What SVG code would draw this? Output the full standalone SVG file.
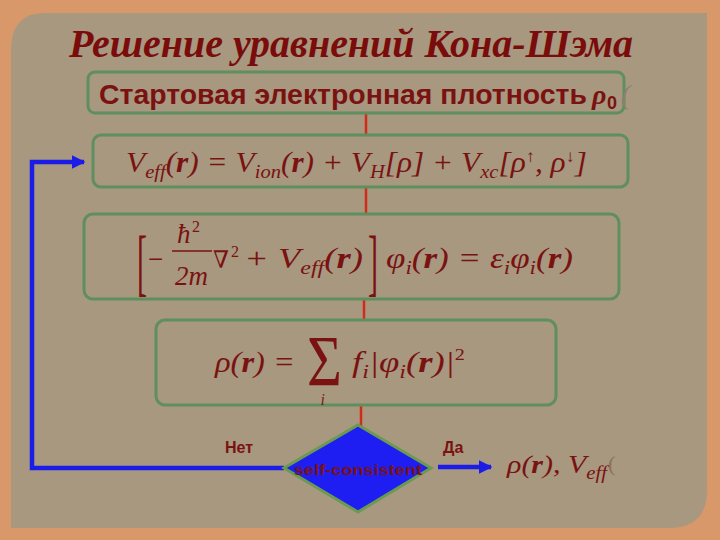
<svg xmlns="http://www.w3.org/2000/svg" width="720" height="540" viewBox="0 0 720 540">
<defs>
<style>
.box{fill:none;stroke:#5f8f5f;stroke-width:3}
.m{font-family:"Liberation Serif","DejaVu Serif",serif;font-style:italic;fill:#7a1212}
.b{font-weight:bold}
.s{font-family:"Liberation Sans",Arial,sans-serif;font-weight:bold;fill:#7a1212}
.red{stroke:#d42a1a;stroke-width:2.5}
.blue{stroke:#1c1ce8;stroke-width:4.5;fill:none}
</style>
<marker id="ah" viewBox="0 0 10 10" refX="9" refY="5" markerWidth="3" markerHeight="3" orient="auto" markerUnits="strokeWidth">
<path d="M0,0 L10,5 L0,10 Z" fill="#1c1ce8"/>
</marker>
</defs>
<rect x="0" y="0" width="720" height="540" fill="#d9986a"/>
<path d="M45 13 H707 V490 Q707 528 669 528 H11 V50 Q11 13 45 13 Z" fill="#a7987f"/>
<text x="69" y="57" font-family="Liberation Serif, serif" font-style="italic" font-weight="bold" font-size="41" fill="#7a0c0c" textLength="564" lengthAdjust="spacingAndGlyphs">Решение уравнений Кона-Шэма</text>

<g id="connectors">
<line class="red" x1="366" y1="113" x2="366" y2="135"/>
<line class="red" x1="366" y1="187" x2="366" y2="213"/>
<line class="red" x1="364" y1="299" x2="364" y2="320"/>
<line class="red" x1="361" y1="405" x2="361" y2="428"/>
<polyline class="blue" points="284,468 32,468 32,162 84,162" marker-end="url(#ah)"/>
<line class="blue" x1="438" y1="467" x2="491" y2="467" marker-end="url(#ah)"/>
<text class="s" x="225" y="453" font-size="16">Нет</text>
<text class="s" x="443" y="453" font-size="16">Да</text>
</g>

<g id="start">
<rect class="box" x="88" y="72" width="536" height="41" rx="7"/>
<text class="s" x="99" y="104" font-size="27" textLength="488" lengthAdjust="spacingAndGlyphs">Стартовая электронная плотность</text>
<text class="m b" x="592" y="104" font-size="28">ρ</text>
<text class="s" x="607" y="109" font-size="18">0</text>
<text class="m" x="621" y="104" font-size="28" style="fill:#8a8070">(</text>
</g>

<g id="veff">
<rect class="box" x="93" y="135" width="535" height="52" rx="8"/>
<text class="m" x="126" y="172" font-size="29" textLength="461" lengthAdjust="spacingAndGlyphs">V<tspan dy="6" font-size="19">eff</tspan><tspan dy="-6">(</tspan><tspan class="b">r</tspan>) = V<tspan dy="6" font-size="19">ion</tspan><tspan dy="-6">(</tspan><tspan class="b">r</tspan>) + V<tspan dy="6" font-size="19">H</tspan><tspan dy="-6">[ρ] + V</tspan><tspan dy="6" font-size="19">xc</tspan><tspan dy="-6">[ρ</tspan><tspan dy="-10" font-size="17">↑</tspan><tspan dy="10">, ρ</tspan><tspan dy="-10" font-size="17">↓</tspan><tspan dy="10">]</tspan></text>
</g>

<g id="kohnsham">
<rect class="box" x="84" y="214" width="535" height="85" rx="9"/>
<text class="m" font-size="30" transform="translate(137,287) scale(1,2.5)" style="font-style:normal">[</text>
<text class="m" x="148" y="268" font-size="27" style="font-style:normal">−</text>
<text class="m" x="177" y="243" font-size="27">ħ</text>
<text class="m" x="192" y="232" font-size="16" style="font-style:normal">2</text>
<line x1="172" y1="251" x2="212" y2="251" stroke="#7a1212" stroke-width="1.5"/>
<text class="m" x="175" y="285" font-size="27">2m</text>
<text class="m" x="213" y="268" font-size="24" textLength="16" lengthAdjust="spacingAndGlyphs">∇</text>
<text class="m" x="231" y="257" font-size="16" style="font-style:normal">2</text>
<text class="m" x="244" y="268" font-size="29" textLength="119" lengthAdjust="spacingAndGlyphs">+ V<tspan dy="6" font-size="19">eff</tspan><tspan dy="-6">(</tspan><tspan class="b">r</tspan>)</text>
<text class="m" font-size="30" transform="translate(368,287) scale(1,2.5)" style="font-style:normal">]</text>
<text class="m" x="386" y="268" font-size="29" textLength="187" lengthAdjust="spacingAndGlyphs">φ<tspan dy="6" font-size="19">i</tspan><tspan dy="-6">(</tspan><tspan class="b">r</tspan>) = ε<tspan dy="6" font-size="19">i</tspan><tspan dy="-6">φ</tspan><tspan dy="6" font-size="19">i</tspan><tspan dy="-6">(</tspan><tspan class="b">r</tspan>)</text>
</g>

<g id="density">
<rect class="box" x="156" y="320" width="400" height="85" rx="9"/>
<text class="m" x="215" y="372" font-size="29" textLength="80" lengthAdjust="spacingAndGlyphs">ρ(<tspan class="b">r</tspan>) =</text>
<text class="m" font-size="50" transform="translate(307,385) scale(1.2,1.45)" style="font-style:normal">Σ<tspan x="11.5" y="13.8" font-size="12" style="font-style:italic">i</tspan></text>
<text class="m" x="352" y="372" font-size="29" textLength="113" lengthAdjust="spacingAndGlyphs">f<tspan dy="6" font-size="19">i</tspan><tspan dy="-6">|φ</tspan><tspan dy="6" font-size="19">i</tspan><tspan dy="-6">(</tspan><tspan class="b">r</tspan>)|<tspan dy="-12" font-size="16" style="font-style:normal">2</tspan></text>
</g>

<g id="decision">
<polygon points="358,425 431,468 358,512 284,468" fill="#1e1ef2" stroke="#6a9a50" stroke-width="3"/>
<text class="s" x="294" y="475" font-size="15" textLength="128" lengthAdjust="spacingAndGlyphs">self-consistent</text>
</g>

<g id="result">
<text class="m" x="507" y="473" font-size="26" textLength="100" lengthAdjust="spacingAndGlyphs">ρ(<tspan class="b">r</tspan>), V<tspan dy="6" font-size="18">eff</tspan></text>
<text class="m" x="608" y="471" font-size="22" style="fill:#8a7060;font-style:normal">(</text>
</g>
</svg>
